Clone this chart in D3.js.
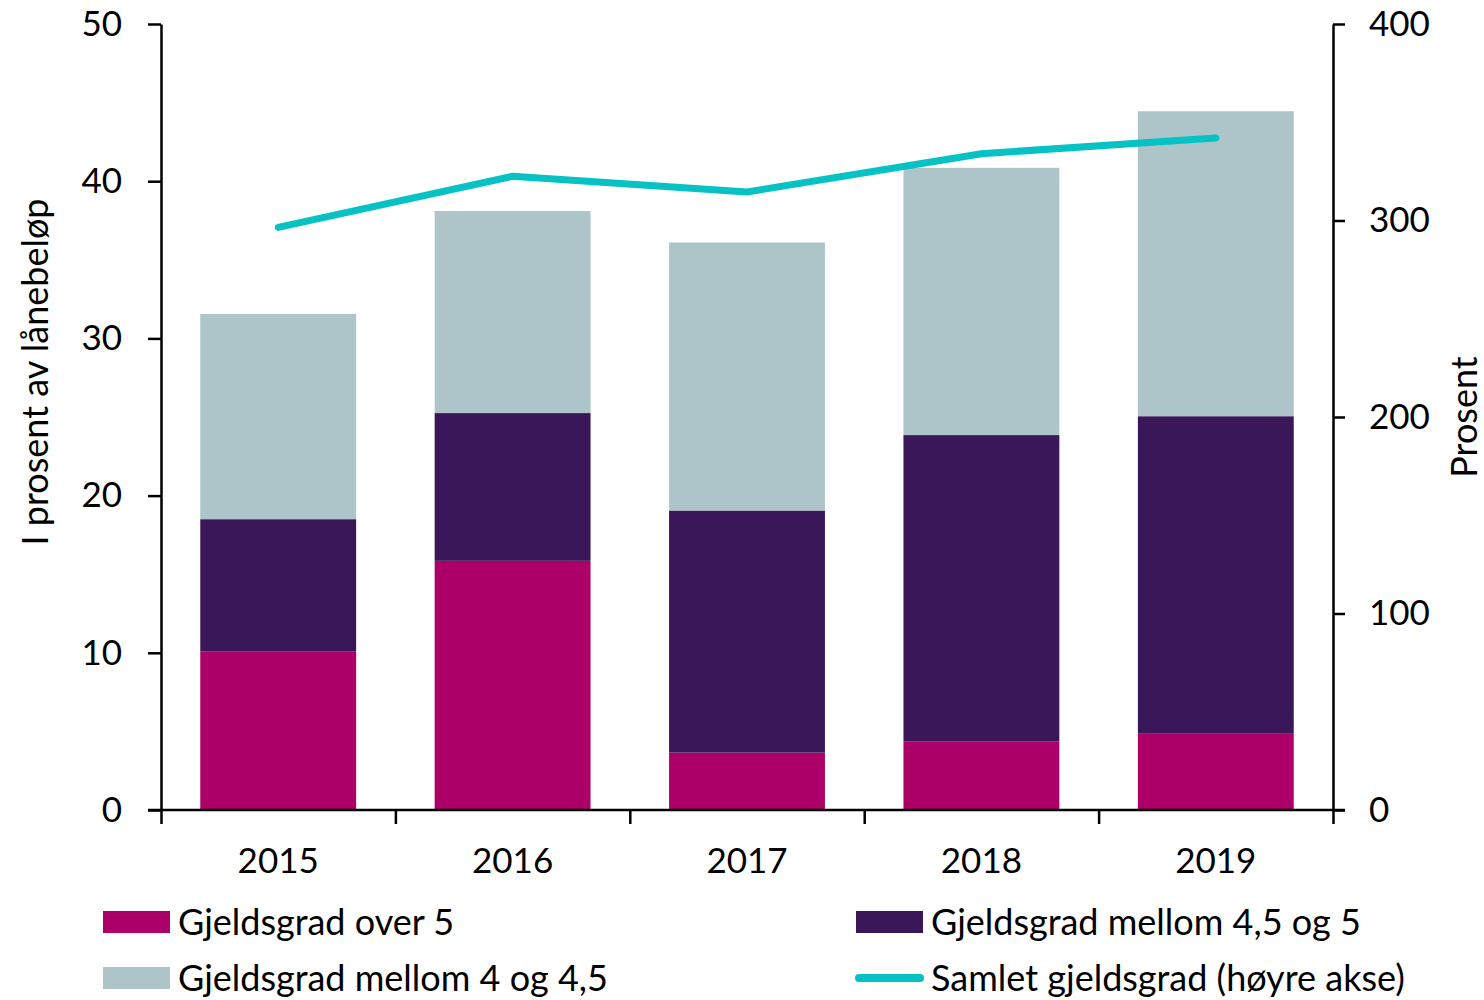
<!doctype html>
<html lang="no">
<head>
  <meta charset="utf-8">
  <title>Gjeldsgrad</title>
  <script type="text/javascript" src="https://cdnjs.cloudflare.com/ajax/libs/d3/7.8.5/d3.min.js"></script>
  <style>
    body { margin: 0; background: #fff; }
    text { font-family: Lato, "Open Sans", sans-serif; fill: #000; }
  </style>
</head>
<body>
  <svg width="1484" height="1000" id="svg"></svg>
</body>
<script type="text/javascript">

	// data
	var years = ['2015', '2016', '2017', '2018', '2019'];
	var over5 = [10.1, 15.85, 3.65, 4.35, 4.85];
	var mellom45og5 = [8.4, 9.4, 15.4, 19.5, 20.2];
	var mellom4og45 = [13.05, 12.85, 17.05, 17.0, 19.4];
	var samlet = [296.5, 322.5, 314.5, 334, 342];

	var seriesNames = ['Gjeldsgrad over 5', 'Gjeldsgrad mellom 4,5 og 5', 'Gjeldsgrad mellom 4 og 4,5'];
	var lineName = 'Samlet gjeldsgrad (høyre akse)';
	var leftTicks = [0, 10, 20, 30, 40, 50];
	var rightTicks = [0, 100, 200, 300, 400];

	var colors = ['#ac0068', '#3a1758', '#adc5c9'];
	var lineColor = '#07c2c4';

	var plotLeft = 161, plotRight = 1333, plotTop = 24, plotBottom = 810;

	var svg = d3.select('#svg');

	var x = d3.scaleBand()
		.domain(years)
		.range([plotLeft, plotRight])
		.paddingInner(0.335)
		.paddingOuter(0.1675);

	var y = d3.scaleLinear().domain([0, 50]).range([plotBottom, plotTop]);
	var y2 = d3.scaleLinear().domain([0, 400]).range([plotBottom, plotTop]);

	var table = years.map(function(d, i) {
		return { year: d, s0: over5[i], s1: mellom45og5[i], s2: mellom4og45[i] };
	});

	var stacked = d3.stack().keys(['s0', 's1', 's2'])(table);

	svg.append('g')
		.selectAll('g')
		.data(stacked)
		.enter()
		.append('g')
		.attr('fill', function(d, i) { return colors[i]; })
		.selectAll('rect')
		.data(function(d) { return d; })
		.enter()
		.append('rect')
		.attr('x', function(d) { return x(d.data.year); })
		.attr('width', x.bandwidth())
		.attr('y', function(d) { return y(d[1]); })
		.attr('height', function(d) { return y(d[0]) - y(d[1]); });

	// left axis
	svg.append('g')
		.attr('transform', 'translate(' + plotLeft + ',0)')
		.call(d3.axisLeft(y).tickValues(leftTicks).tickSize(13).tickSizeOuter(0).tickPadding(26));

	// right axis
	svg.append('g')
		.attr('transform', 'translate(' + plotRight + ',0)')
		.call(d3.axisRight(y2).tickValues(rightTicks).tickSize(12).tickSizeOuter(0).tickPadding(24));

	// bottom axis: ticks at category boundaries
	var xb = d3.scaleLinear().domain([0, years.length]).range([plotLeft, plotRight]);
	var gb = svg.append('g')
		.attr('transform', 'translate(0,' + plotBottom + ')')
		.call(d3.axisBottom(xb).ticks(years.length).tickSize(14).tickSizeOuter(0).tickFormat(''));
	gb.select('.domain').attr('d', 'M' + (plotLeft - 13) + ',0H' + (plotRight + 12));

	svg.append('g')
		.attr('transform', 'translate(0,' + plotBottom + ')')
		.call(d3.axisBottom(x).tickSize(0).tickPadding(38))
		.select('.domain').remove();

	svg.selectAll('.domain, .tick line')
		.attr('stroke', '#000')
		.attr('stroke-width', 2.5);
	svg.selectAll('.tick text')
		.style('font-size', '35px')
		.style('font-family', 'Lato, "Open Sans", sans-serif');

	// line
	var line = d3.line()
		.x(function(d, i) { return x(years[i]) + x.bandwidth() / 2; })
		.y(function(d) { return y2(d); });

	svg.append('path')
		.datum(samlet)
		.attr('d', line)
		.attr('fill', 'none')
		.attr('stroke', lineColor)
		.attr('stroke-width', 7)
		.attr('stroke-linecap', 'round')
		.attr('stroke-linejoin', 'round');

	// axis titles
	svg.append('text')
		.attr('transform', 'translate(48,372) rotate(-90)')
		.attr('text-anchor', 'middle')
		.style('font-size', '36px')
		.text('I prosent av lånebeløp');

	svg.append('text')
		.attr('transform', 'translate(1477,417) rotate(-90)')
		.attr('text-anchor', 'middle')
		.style('font-size', '36px')
		.text('Prosent');

	// legend
	var legendItems = [
		{ name: seriesNames[0], color: colors[0], x: 103, y: 922, type: 'rect' },
		{ name: seriesNames[1], color: colors[1], x: 856, y: 922, type: 'rect' },
		{ name: seriesNames[2], color: colors[2], x: 103, y: 978, type: 'rect' },
		{ name: lineName, color: lineColor, x: 856, y: 978, type: 'line' }
	];

	var lg = svg.append('g')
		.selectAll('g')
		.data(legendItems)
		.enter()
		.append('g')
		.attr('transform', function(d) { return 'translate(' + d.x + ',' + d.y + ')'; });

	lg.filter(function(d) { return d.type == 'rect'; })
		.append('rect')
		.attr('x', 0).attr('y', -11).attr('width', 67).attr('height', 22)
		.attr('fill', function(d) { return d.color; });

	lg.filter(function(d) { return d.type == 'line'; })
		.append('line')
		.attr('x1', 3).attr('x2', 64).attr('y1', 0).attr('y2', 0)
		.attr('stroke', function(d) { return d.color; })
		.attr('stroke-width', 8)
		.attr('stroke-linecap', 'round');

	lg.append('text')
		.attr('x', 75)
		.attr('dy', '0.35em')
		.style('font-size', '36px')
		.text(function(d) { return d.name; });

</script>
</html>
